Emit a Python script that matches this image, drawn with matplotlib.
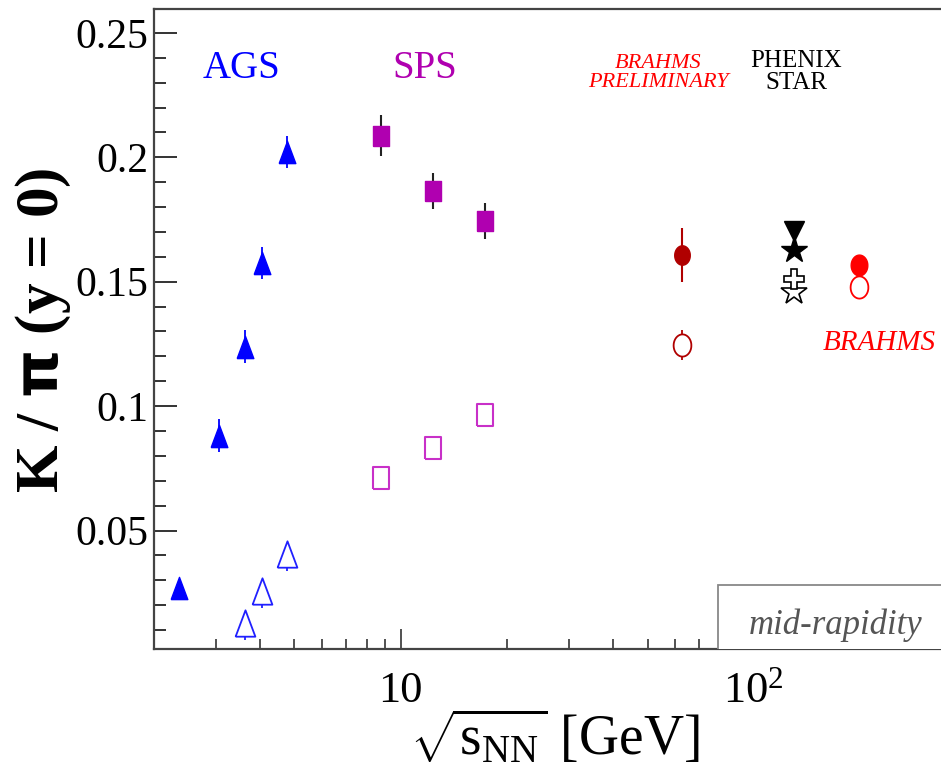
import numpy as np
import matplotlib
matplotlib.use("Agg")
import matplotlib.pyplot as plt
from matplotlib.patches import Rectangle
from matplotlib.ticker import MultipleLocator, NullFormatter, FixedLocator, FixedFormatter, LogLocator

plt.rcParams['font.family'] = ['Liberation Serif', 'DejaVu Serif']
plt.rcParams['mathtext.fontset'] = 'custom'
plt.rcParams['mathtext.rm'] = 'Liberation Serif'
plt.rcParams['mathtext.it'] = 'Liberation Serif:italic'

# AGS  (K+/pi+ filled, K-/pi- open)
ags_x = [2.36, 3.06, 3.61, 4.04, 4.75]
ags_kp = [0.0271, 0.0882, 0.1239, 0.1574, 0.2022]
ags_kp_err = [0.0, 0.0065, 0.0065, 0.0065, 0.0065]
ags_km_x = [3.61, 4.04, 4.75]
ags_km = [0.0128, 0.0258, 0.0405]
ags_km_err_lo = [0.0068, 0.0068, 0.0068]
ags_km_err_hi = [0.004, 0.004, 0.004]

# SPS
sps_x = [8.77, 12.3, 17.3]
sps_kp = [0.2087, 0.1864, 0.1745]
sps_kp_err = [0.0083, 0.0072, 0.0073]
sps_km = [0.0712, 0.0832, 0.0964]

# BRAHMS preliminary (62.4 GeV)
bp_x = [62.8]
bp_kp = [0.1607]
bp_kp_err = [0.011]
bp_km = [0.1245]
bp_km_err = [0.006]

# PHENIX / STAR (130 GeV)
rhic_x = [130.0]
phenix_kp = [0.1705]
star_kp = [0.1627]
phenix_km = [0.1511]
star_km = [0.1460]

# BRAHMS (200 GeV)
br_x = [199.0]
br_kp = [0.1566]
br_km = [0.1479]

W, H = 941, 778


def px(x, y):
    return x / W, 1 - y / H


fig = plt.figure(figsize=(W / 100, H / 100), dpi=100)
ax = fig.add_axes([154 / W, 1 - 649 / H, 1 - 154 / W, (649 - 9) / H])
ax.set_xscale('log')
ax.set_xlim(2.0, 339)
ax.set_ylim(0.0024, 0.2596)

tri = [(-0.75, -1), (0.75, -1), (0, 1), (-0.75, -1)]
sq = [(-0.78, -1), (0.78, -1), (0.78, 1), (-0.78, 1), (-0.78, -1)]
t = np.linspace(0, 2 * np.pi, 41)
ell = list(zip(0.8 * np.cos(t), np.sin(t)))

# AGS
ax.errorbar(ags_x, ags_kp, yerr=ags_kp_err, ls='none', marker=tri, ms=16,
            color='#0000ff', elinewidth=1.3, capsize=0)
ax.errorbar(ags_km_x, ags_km, yerr=[ags_km_err_lo, ags_km_err_hi], fmt='none',
            ecolor='#2020ff', elinewidth=1.3, capsize=0)
ax.plot(ags_km_x, ags_km, ls='none', marker=tri, ms=19, mfc='white',
        mec='#2020ff', mew=1.3, zorder=4)

# SPS
ax.errorbar(sps_x, sps_kp, yerr=sps_kp_err, ls='none', marker=sq, ms=15,
            color='#b000b0', ecolor='#222222', elinewidth=1.5, capsize=0)
ax.plot(sps_x, sps_km, ls='none', marker=sq, ms=15.5, mfc='white',
        mec='#c830c8', mew=1.5)

# BRAHMS preliminary
ax.errorbar(bp_x, bp_kp, yerr=bp_kp_err, ls='none', marker=ell, ms=14,
            color='#b00000', elinewidth=1.5, capsize=0)
ax.errorbar(bp_x, bp_km, yerr=bp_km_err, fmt='none',
            ecolor='#b00000', elinewidth=1.3, capsize=0)
ax.plot(bp_x, bp_km, ls='none', marker=ell, ms=16, mfc='white',
        mec='#b00000', mew=1.3, zorder=4)

# PHENIX / STAR
ax.plot(rhic_x, star_km, ls='none', marker='*', ms=19, mfc='white',
        mec='black', mew=1.2)
ax.plot(rhic_x, phenix_km, ls='none', marker='P', ms=14, mfc='white',
        mec='black', mew=1.2)
ax.plot(rhic_x, phenix_kp, ls='none', marker='v', ms=15, color='black')
ax.plot(rhic_x, star_kp, ls='none', marker='*', ms=20, color='black')

# BRAHMS
ax.plot(br_x, br_km, ls='none', marker=ell, ms=16, mfc='white',
        mec='#ff0000', mew=1.3)
ax.plot(br_x, br_kp, ls='none', marker=ell, ms=15, color='#ff0000')

# axes styling
for s in ['left', 'top', 'bottom']:
    ax.spines[s].set_linewidth(1.6)
    ax.spines[s].set_color('#444444')
ax.spines['right'].set_visible(False)

ax.yaxis.set_major_locator(FixedLocator([0.05, 0.1, 0.15, 0.2, 0.25]))
ax.yaxis.set_major_formatter(FixedFormatter(['0.05', '0.1', '0.15', '0.2', '0.25']))
ax.yaxis.set_minor_locator(MultipleLocator(0.01))
ax.xaxis.set_major_locator(FixedLocator([10, 100]))
ax.xaxis.set_major_formatter(FixedFormatter(['10', r'$10^{2}$']))
ax.xaxis.set_minor_locator(LogLocator(base=10, subs=np.arange(2, 10)))
ax.xaxis.set_minor_formatter(NullFormatter())

ax.tick_params(axis='y', which='major', direction='in', length=16.5, width=1.4,
               color='#333333', labelsize=30, pad=4, right=False)
ax.tick_params(axis='y', which='minor', direction='in', length=8.6, width=1.4,
               color='#333333', right=False)
ax.tick_params(axis='x', which='major', direction='in', length=14.4, width=1.2,
               color='#333333', labelsize=32, pad=16, top=False)
ax.tick_params(axis='x', which='minor', direction='in', length=7.2, width=1.2,
               color='#333333', top=False)

# mid-rapidity box
ax.add_patch(Rectangle((79.3, 0.0), 1000, 0.0281, facecolor='white',
                       edgecolor='#888888', lw=1.3, zorder=5))
fig.text(*px(836, 625), 'mid-rapidity', color='#555555', fontsize=25,
         style='italic', ha='center', va='center')

# labels
fig.text(*px(241, 68), 'AGS', color='#0000ff', fontsize=28, ha='center', va='center')
fig.text(*px(425, 68), 'SPS', color='#b000b0', fontsize=28, ha='center', va='center')
fig.text(*px(658, 73), 'BRAHMS\nPRELIMINARY', color='#ff0000', fontsize=16,
         style='italic', ha='center', va='center', linespacing=0.95)
fig.text(*px(796, 72), 'PHENIX\nSTAR', color='black', fontsize=18,
         ha='center', va='center', linespacing=0.95)
fig.text(*px(936, 343), 'BRAHMS', color='#ff0000', fontsize=21,
         style='italic', ha='right', va='center')

fig.text(*px(43, 330), r'K / $\mathbf{\pi}$ (y = 0)', fontsize=44, fontweight='bold',
         rotation=90, ha='center', va='center')
fig.text(*px(555, 738), r'$\sqrt{\mathrm{s}_{\mathrm{NN}}}$ [GeV]', fontsize=40,
         ha='center', va='center')

fig.savefig('out.png', dpi=100)
